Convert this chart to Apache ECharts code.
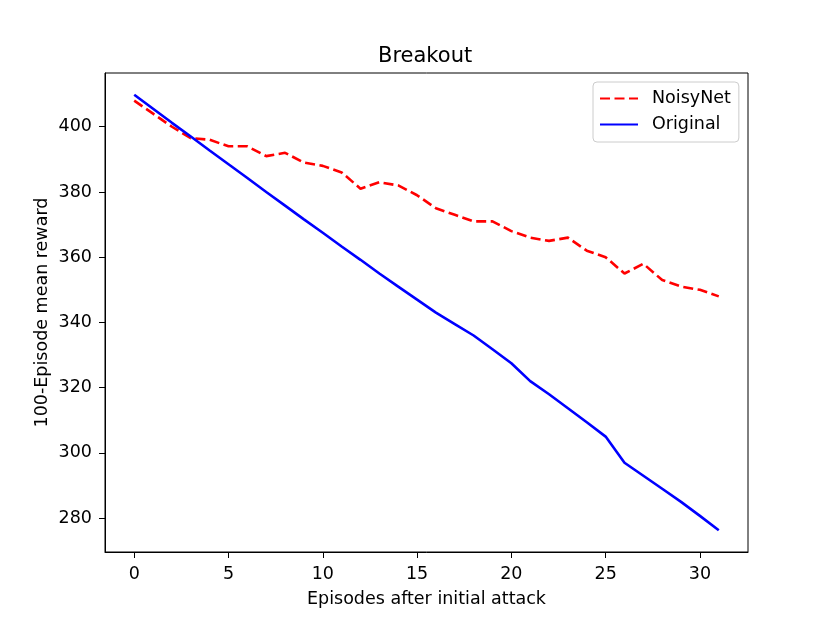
<!DOCTYPE html>
<html>
<head>
<meta charset="utf-8">
<script src="https://cdn.jsdelivr.net/npm/echarts@6/dist/echarts.min.js"></script>
<style>html,body{margin:0;padding:0;background:#fff}#c{width:830px;height:622px}</style>
</head>
<body>
<div id="c"></div>
<script>
const episodes = [0,1,2,3,4,5,6,7,8,9,10,11,12,13,14,15,16,17,18,19,20,21,22,23,24,25,26,27,28,29,30,31];
const noisyNet = [408,404,400,396.5,396,394,394,391,392,389,388,386,381,383,382,379,375,373,371,371,368,366,365,366,362,360,355,358,353,351,350,348];
const original = [409.8,405.5,401.2,397,392.7,388.5,384.3,380,375.8,371.6,367.5,363.3,359.2,355,351,347,343,339.5,336,331.8,327.5,322,318,313.7,309.4,305,297,293,289,285,280.7,276.3];
const xTicks = [0,5,10,15,20,25,30];
const yTicks = [280,300,320,340,360,380,400];
const titleText = 'Breakout';
const xName = 'Episodes after initial attack';
const yName = '100-Episode mean reward';

function padRange(arr){
  const lo = Math.min.apply(null, arr), hi = Math.max.apply(null, arr);
  const p = (hi - lo) * 0.05;
  return [lo - p, hi + p];
}
const xr = padRange(episodes);
const yr = padRange(noisyNet.concat(original));
const font = 'DejaVu Sans';

const chart = echarts.init(document.getElementById('c'), null, {renderer:'canvas'});
chart.setOption({
  animation: false,
  backgroundColor: '#fff',
  title: {
    text: titleText, left: 378, top: 46, padding: 0,
    textStyle: {fontFamily: font, fontSize: 21, fontWeight: 'normal', color: '#000'}
  },
  legend: {
    orient: 'vertical', left: 593, top: 82,
    padding: [7.5, 8, 8.5, 6], itemGap: 8,
    itemWidth: 38, itemHeight: 14,
    itemStyle: {opacity: 0},
    backgroundColor: '#fff', borderColor: '#cccccc', borderWidth: 1, borderRadius: 4,
    textStyle: {fontFamily: font, fontSize: 17.5, color: '#000', lineHeight: 18, padding: [0,0,0,9]},
    data: ['NoisyNet', 'Original']
  },
  grid: {left: 105, right: 82, top: 73, bottom: 70, show: true, borderColor: '#000', borderWidth: 1, containLabel: false},
  xAxis: {
    type: 'value', min: xr[0], max: xr[1],
    name: xName, nameLocation: 'middle', nameGap: 38,
    nameTextStyle: {fontFamily: font, fontSize: 17.5, color: '#000'},
    splitLine: {show: false},
    axisLine: {show: true, onZero: false, lineStyle: {color: '#000', width: 1}},
    axisTick: {show: true, length: 6, lineStyle: {color: '#000', width: 1}, customValues: xTicks},
    axisLabel: {fontFamily: font, fontSize: 17.5, color: '#000', margin: 13, customValues: xTicks}
  },
  yAxis: {
    type: 'value', min: yr[0], max: yr[1],
    name: yName, nameLocation: 'middle', nameGap: 54, nameMoveOverlap: false,
    nameTextStyle: {fontFamily: font, fontSize: 17.5, color: '#000'},
    splitLine: {show: false},
    axisLine: {show: true, onZero: false, lineStyle: {color: '#000', width: 1}},
    axisTick: {show: true, length: 6, lineStyle: {color: '#000', width: 1}, customValues: yTicks},
    axisLabel: {fontFamily: font, fontSize: 17.5, color: '#000', margin: 13, customValues: yTicks}
  },
  series: [
    {
      name: 'NoisyNet', type: 'line', symbol: 'none',
      data: episodes.map((x, i) => [x, noisyNet[i]]),
      lineStyle: {color: '#ff0000', width: 2.6, type: [10, 4.5]},
      itemStyle: {color: '#ff0000'}
    },
    {
      name: 'Original', type: 'line', symbol: 'none',
      data: episodes.map((x, i) => [x, original[i]]),
      lineStyle: {color: '#0000ff', width: 2.6},
      itemStyle: {color: '#0000ff'}
    }
  ]
});
</script>
</body>
</html>
